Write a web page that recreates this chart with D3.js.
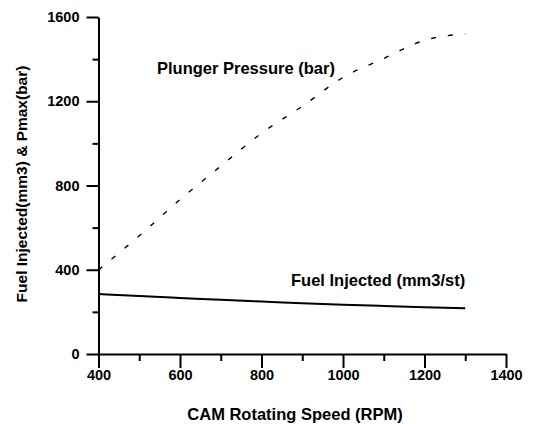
<!DOCTYPE html>
<html>
<head>
<meta charset="utf-8">
<script src="https://d3js.org/d3.v7.min.js"></script>
<style>
  body { margin: 0; background: #fff; }
  svg { display: block; }
  text { font-family: 'Liberation Sans', Arial, sans-serif; font-weight: bold; fill: #000; }
  .axis path, .axis line { stroke: #000; stroke-width: 2px; }
  .axis text { font-size: 14.5px; }
</style>
</head>
<body>
<script>
const rpm = [400, 500, 600, 700, 800, 900, 1000, 1100, 1200, 1300];
const plungerPressure = [399, 561, 733, 892, 1048, 1176, 1313, 1403, 1489, 1520];
const fuelInjected = [285, 275, 266, 257, 249, 241, 234, 228, 222, 217];
const xTicks = [400, 600, 800, 1000, 1200, 1400];
const yTicks = [0, 400, 800, 1200, 1600];

const width = 536, height = 424;
const margin = { left: 98.5, right: 30, top: 17, bottom: 70 };

const svg = d3.select('body').append('svg').attr('width', width).attr('height', height);

const x = d3.scaleLinear().domain([400, 1400]).range([margin.left, 506]);
const y = d3.scaleLinear().domain([0, 1600]).range([354, margin.top]);
const fmt = d3.format('d');

// minor ticks first, majors on top
svg.append('g').attr('class', 'axis').attr('transform', 'translate(0,354)')
  .call(d3.axisBottom(x).tickValues(d3.range(500, 1400, 200)).tickSize(7).tickFormat(''))
  .call(g => g.select('.domain').remove());
svg.append('g').attr('class', 'axis').attr('transform', 'translate(0,354)')
  .call(d3.axisBottom(x).tickValues(xTicks).tickFormat(fmt).tickSize(14).tickSizeOuter(0).tickPadding(8))
  .call(g => g.selectAll('text').attr('dy', '0.3em'));

svg.append('g').attr('class', 'axis').attr('transform', `translate(${margin.left},0)`)
  .call(d3.axisLeft(y).tickValues(d3.range(200, 1600, 400)).tickSize(6).tickFormat(''))
  .call(g => g.select('.domain').remove());
svg.append('g').attr('class', 'axis').attr('transform', `translate(${margin.left},0)`)
  .call(d3.axisLeft(y).tickValues(yTicks).tickFormat(fmt).tickSize(12).tickSizeOuter(0).tickPadding(7));

const line = d3.line().x((d, i) => x(rpm[i])).y(d => y(d)).curve(d3.curveMonotoneX);

svg.append('path').datum(plungerPressure)
  .attr('d', line).attr('fill', 'none').attr('stroke', '#000')
  .attr('stroke-width', 1.4).attr('stroke-dasharray', '5,12');

svg.append('path').datum(fuelInjected)
  .attr('d', line).attr('fill', 'none').attr('stroke', '#000')
  .attr('stroke-width', 2);

svg.append('text').attr('x', 157).attr('y', 74).style('font-size', '16.5px')
  .text('Plunger Pressure (bar)');
svg.append('text').attr('x', 291).attr('y', 286).style('font-size', '16.5px')
  .text('Fuel Injected (mm3/st)');

svg.append('text').attr('x', 295).attr('y', 420).attr('text-anchor', 'middle')
  .style('font-size', '16.5px').text('CAM Rotating Speed (RPM)');
svg.append('text').attr('transform', 'translate(27,184) rotate(-90)')
  .attr('text-anchor', 'middle').style('font-size', '15.5px')
  .text('Fuel Injected(mm3) & Pmax(bar)');
</script>
</body>
</html>
